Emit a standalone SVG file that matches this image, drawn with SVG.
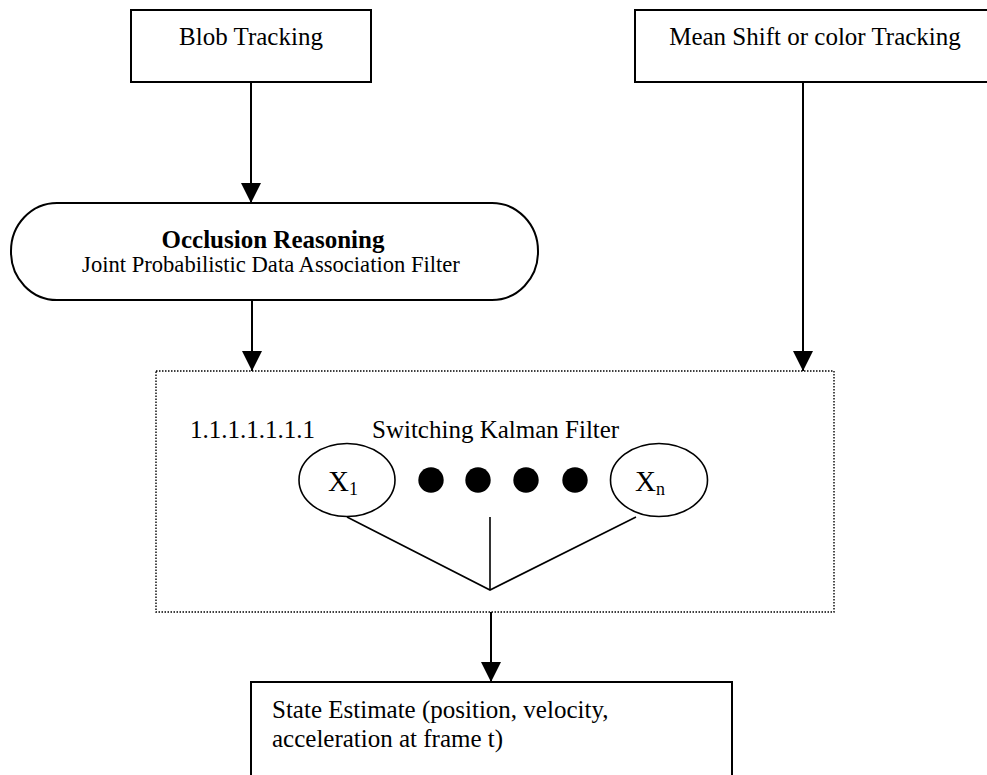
<svg xmlns="http://www.w3.org/2000/svg" width="987" height="775" viewBox="0 0 987 775">
<style>
.box{fill:#fff;stroke:#000;stroke-width:2}
.ln{fill:none;stroke:#000;stroke-width:2}
.thin{fill:none;stroke:#000;stroke-width:1.6}
.t{font-family:"Liberation Serif","Times New Roman",serif;font-size:25px;fill:#000}
.dot{fill:none;stroke:#000;stroke-width:1.4;stroke-dasharray:1.5 1.5}
</style>
<defs>
<marker id="ah" markerWidth="20" markerHeight="20" refX="20" refY="10" orient="auto" markerUnits="userSpaceOnUse">
<path d="M0,0 L20,10 L0,20 Z" fill="#000"/>
</marker>
</defs>
<rect width="987" height="775" fill="#fff"/>
<g id="blob">
<rect class="box" x="131" y="10" width="240" height="72"/>
<text class="t" x="251" y="45" text-anchor="middle">Blob Tracking</text>
</g>
<g id="meanshift">
<rect class="box" x="635" y="10" width="370" height="72"/>
<text class="t" x="815" y="45" text-anchor="middle">Mean Shift or color Tracking</text>
</g>
<g id="occlusion">
<rect class="box" x="11" y="203" width="527" height="97" rx="46" ry="48"/>
<text class="t" x="273" y="248" text-anchor="middle" font-weight="bold">Occlusion Reasoning</text>
<text class="t" x="271" y="272" text-anchor="middle" style="font-size:22.6px">Joint Probabilistic Data Association Filter</text>
</g>
<g id="skf">
<rect class="dot" x="156" y="371" width="678" height="241"/>
<text class="t" x="190" y="438">1.1.1.1.1.1.1</text>
<text class="t" x="372" y="438">Switching Kalman Filter</text>
</g>
<g id="x1">
<ellipse class="thin" cx="347" cy="480" rx="48" ry="36.5" fill="#fff"/>
<text class="t" x="328" y="491" style="font-size:29px">X<tspan dy="4" style="font-size:18px">1</tspan></text>
</g>
<g id="dots">
<circle cx="431" cy="480" r="12.7"/>
<circle cx="478" cy="480" r="12.7"/>
<circle cx="526" cy="480" r="12.7"/>
<circle cx="575" cy="480" r="12.7"/>
</g>
<g id="xn">
<ellipse class="thin" cx="659" cy="480" rx="48.5" ry="36.5" fill="#fff"/>
<text class="t" x="635" y="491" style="font-size:29px">X<tspan dy="4" style="font-size:18px">n</tspan></text>
</g>
<g id="state">
<rect class="box" x="251" y="682" width="481" height="110"/>
<text class="t" x="272" y="718">State Estimate (position, velocity,</text>
<text class="t" x="272" y="747">acceleration at frame t)</text>
</g>
<g id="connectors">
<line class="ln" x1="251" y1="82" x2="251" y2="203" marker-end="url(#ah)"/>
<line class="ln" x1="252" y1="300" x2="252" y2="371" marker-end="url(#ah)"/>
<line class="ln" x1="803" y1="82" x2="803" y2="371" marker-end="url(#ah)"/>
<line class="ln" x1="491" y1="612" x2="491" y2="682" marker-end="url(#ah)"/>
<polyline class="thin" points="347,517 490,590 636,517"/>
<line class="thin" x1="490" y1="517" x2="490" y2="590"/>
</g>
</svg>
